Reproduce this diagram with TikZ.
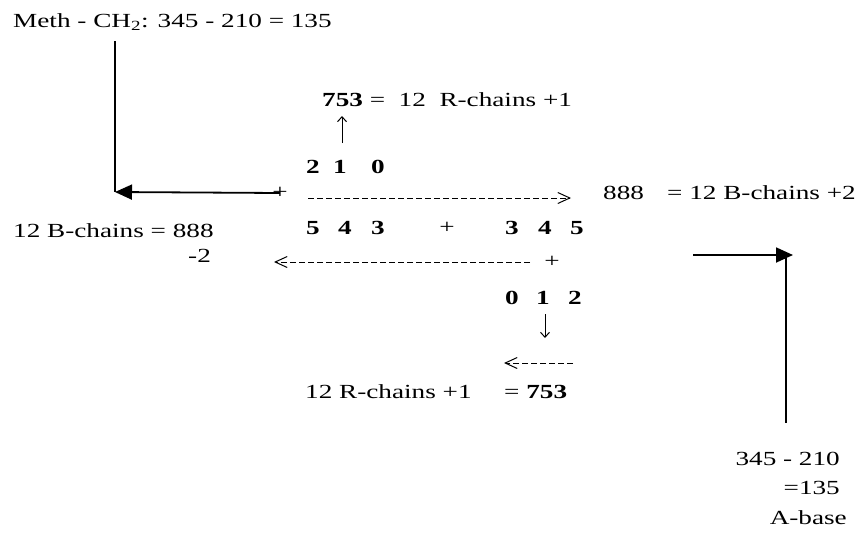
\documentclass[tikz,border=0pt]{standalone}
\usepackage{fontspec}
\setmainfont{Liberation Serif}[FakeStretch=1.36]
\usetikzlibrary{arrows.meta}
\newcommand{\fs}{\fontsize{20}{24}\selectfont}
\tikzset{
  txt/.style={inner sep=0pt, anchor=base west, font=\fs},
  txtr/.style={inner sep=0pt, anchor=base east, font=\fs},
  dig/.style={inner sep=0pt, anchor=base, font=\fs\bfseries},
  plussign/.style={inner sep=0pt, anchor=center, font=\fs},
  solidline/.style={line width=1.8pt},
  dashline/.style={line width=0.9pt, dash pattern=on 6pt off 3pt},
  fillarrow/.style={-{Triangle[length=17pt,width=15pt]}},
  openarrow/.style={-{Straight Barb[length=12pt,width=11pt,line width=1pt]}},
  thinarrow/.style={line width=1pt, -{Straight Barb[length=5pt,width=9pt]}}
}
\begin{document}
\begin{tikzpicture}[x=1pt,y=-1pt]
\useasboundingbox (0,0) rectangle (864,536);
% top-left formula and its connector
\node[txt] (meth) at (13,27) {Meth - CH\textsubscript{2}: 345 - 210 = 135};
\coordinate (c1) at (115,41);
\coordinate (c2) at (115,192);
\draw[solidline] (c1) -- (c2);
\node[plussign] (plus1) at (280,193) {+};
\draw[solidline, fillarrow] (plus1.center) -- (c2);
% top equation
\node[txt] (n753) at (322,106) {\textbf{753} =\ \ 12\ \ R-chains +1};
% digits 2 1 0
\node[dig] (a2) at (313,173) {2};
\node[dig] (a1) at (340,173) {1};
\node[dig] (a0) at (378,173) {0};
\coordinate (up1) at (342,143);
\coordinate (up2) at (342,116);
\draw[thinarrow] (up1) -- (up2);
% dashed arrow right
\coordinate (d1s) at (308,198);
\coordinate (d1e) at (571,198);
\draw[dashline, openarrow] (d1s) -- (d1e);
\node[txt] (n888) at (603,199) {888};
\node[txt] (nB2) at (667,199) {= 12 B-chains +2};
% digits 5 4 3 + 3 4 5
\node[dig] (b5) at (313,234) {5};
\node[dig] (b4) at (345,234) {4};
\node[dig] (b3) at (378,234) {3};
\node[plussign] (plus2) at (447,228) {+};
\node[dig] (c3) at (512,234) {3};
\node[dig] (c4) at (545,234) {4};
\node[dig] (c5) at (577,234) {5};
% left equation
\node[txt] (nB888) at (13,237) {12 B-chains = 888};
\node[txt] (m2) at (188,262) {-2};
% dashed arrow left
\node[plussign] (plus3) at (552,262) {+};
\coordinate (d2s) at (530,262);
\coordinate (d2e) at (274,262);
\draw[dashline, openarrow] (d2s) -- (d2e);
% digits 0 1 2
\node[dig] (e0) at (512,304) {0};
\node[dig] (e1) at (543,304) {1};
\node[dig] (e2) at (575,304) {2};
\coordinate (dn1) at (545,314);
\coordinate (dn2) at (545,338);
\draw[thinarrow] (dn1) -- (dn2);
% short dashed arrow
\coordinate (d3s) at (573,363);
\coordinate (d3e) at (504,363);
\draw[dashline, openarrow] (d3s) -- (d3e);
% bottom equation
\node[txt] (nR1) at (305,398) {12 R-chains +1};
\node[txt] (n753b) at (504,398) {= \textbf{753}};
% right connector
\coordinate (r1) at (693,255);
\coordinate (r2) at (793,255);
\draw[solidline, fillarrow] (r1) -- (r2);
\coordinate (r3) at (786,257);
\coordinate (r4) at (786,423);
\draw[solidline] (r3) -- (r4);
% bottom-right text
\node[txtr] (q1) at (840,465) {345 - 210};
\node[txtr] (q2) at (840,494) {=135};
\node[txtr] (q3) at (847,524) {A-base};
\end{tikzpicture}
\end{document}
